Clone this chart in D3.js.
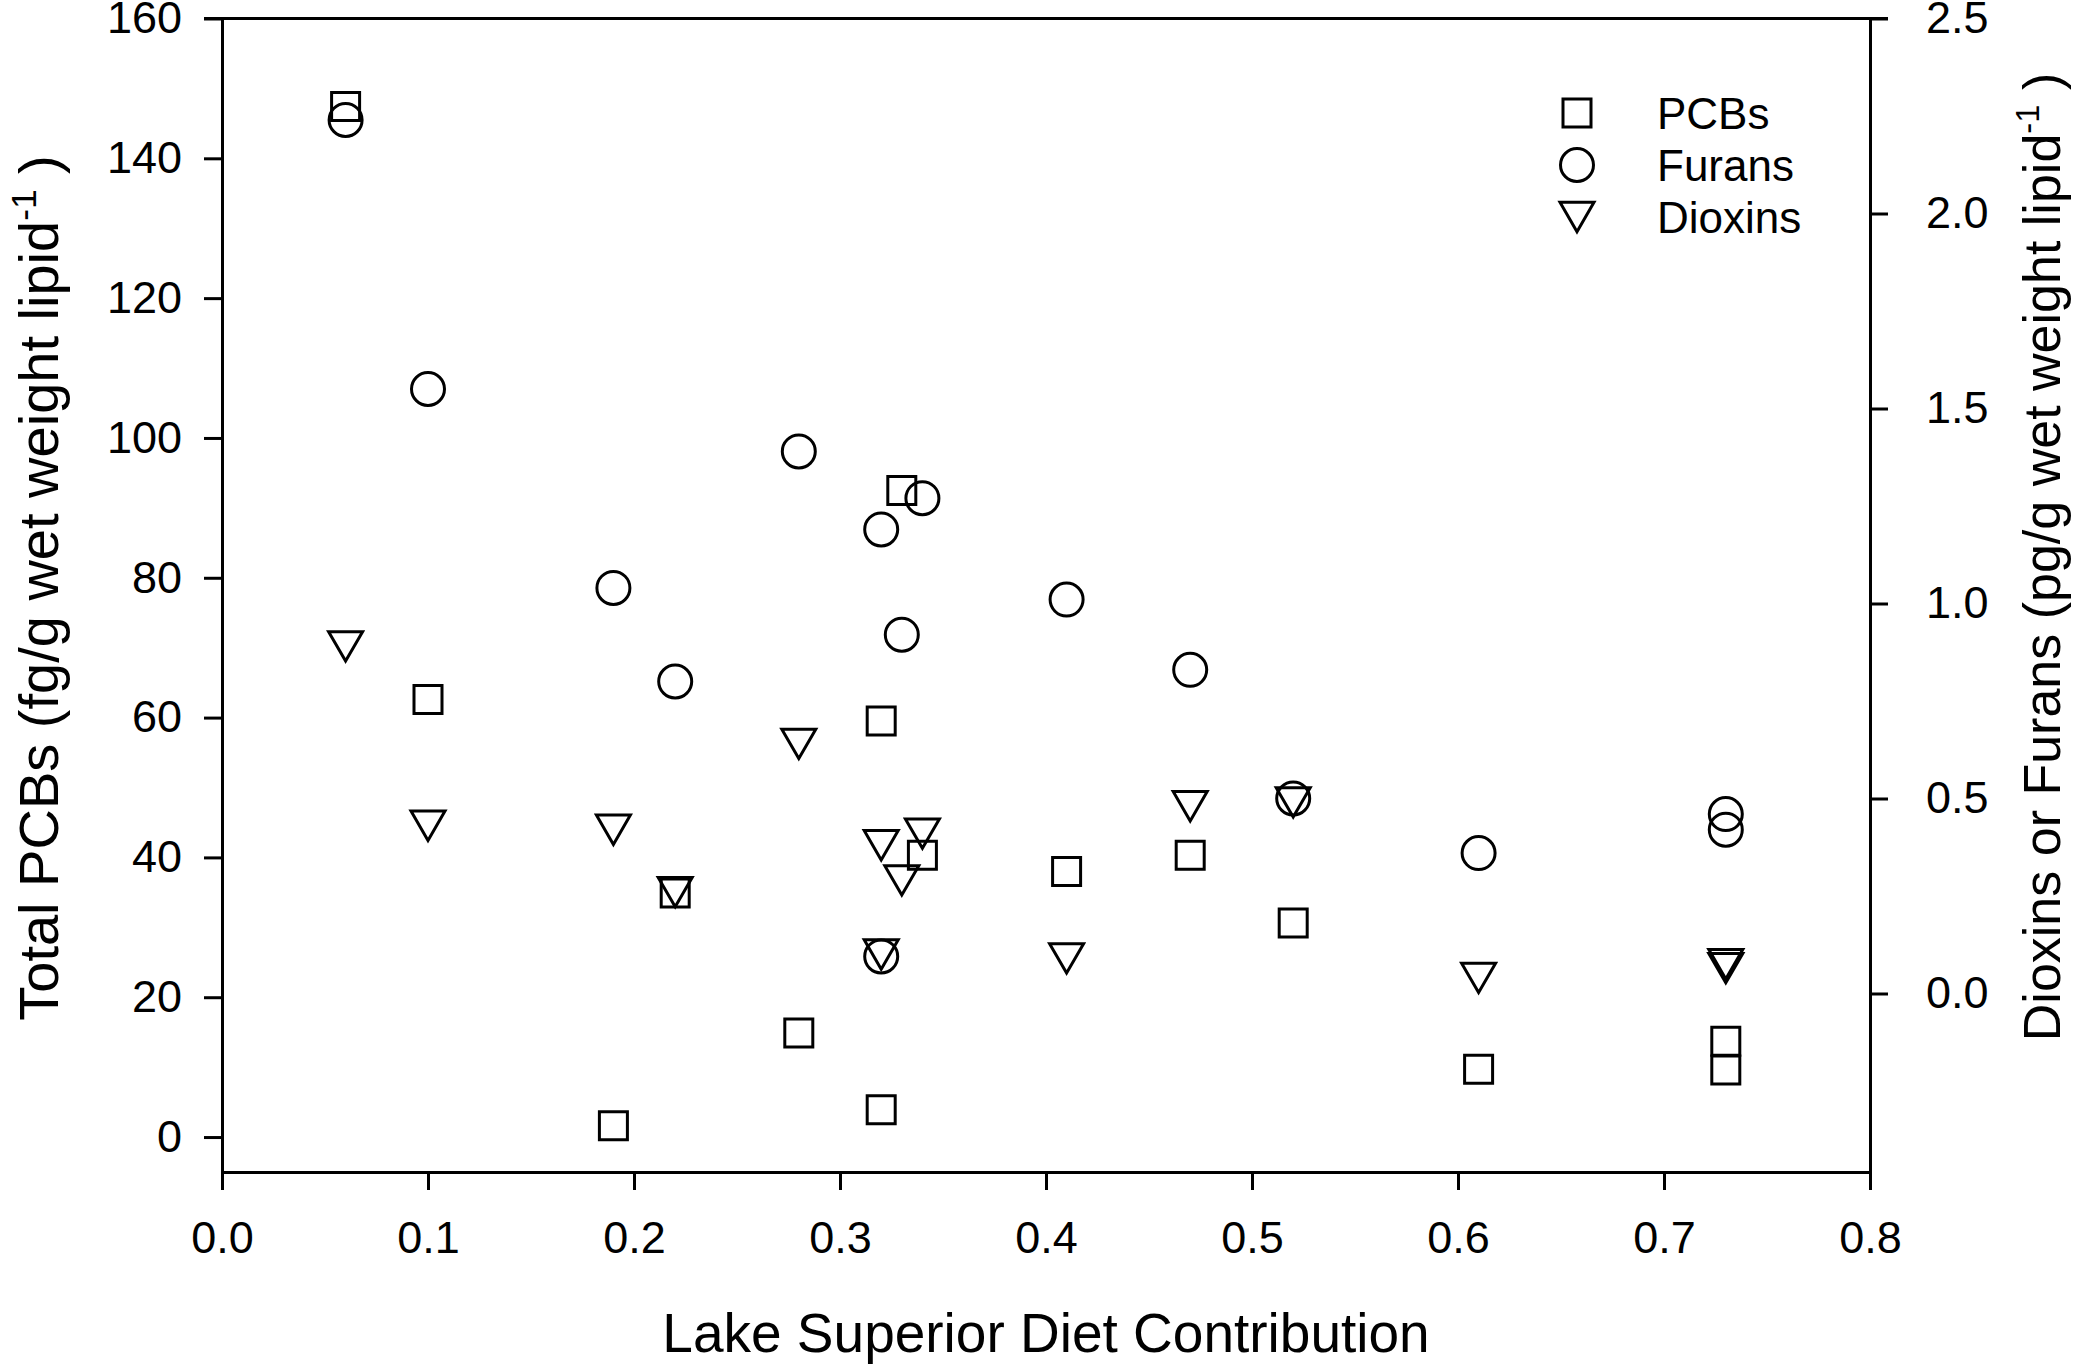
<!DOCTYPE html>
<html>
<head>
<meta charset="utf-8">
<script src="https://cdn.jsdelivr.net/npm/d3@7"></script>
<style>
  body { margin: 0; background: #fff; }
  text { font-family: 'Liberation Sans', Arial, sans-serif; fill: #000; }
</style>
</head>
<body>
<div id="chart"></div>
<script>
// diet contribution of each fish (x)
const dietShare = [0.06, 0.10, 0.19, 0.22, 0.28, 0.32, 0.32, 0.33, 0.34, 0.41, 0.47, 0.52, 0.61, 0.73, 0.73]
// left axis: total PCBs
const pcbs = [147.4, 62.6, 1.6, 34.9, 14.9, 59.5, 3.9, 92.5, 40.3, 38.0, 40.3, 30.6, 9.7, 13.7, 9.6]
// right axis: furans and dioxins
const furans = [2.24, 1.55, 1.04, 0.80, 1.39, 1.19, 0.095, 0.92, 1.27, 1.01, 0.83, 0.50, 0.36, 0.46, 0.42]
const dioxins = [0.89, 0.43, 0.42, 0.26, 0.64, 0.38, 0.10, 0.29, 0.41, 0.09, 0.48, 0.49, 0.04, 0.075, 0.065]

const xTicks = [0, 0.1, 0.2, 0.3, 0.4, 0.5, 0.6, 0.7, 0.8]
const leftTicks = [0, 20, 40, 60, 80, 100, 120, 140, 160]
const rightTicks = [0, 0.5, 1.0, 1.5, 2.0, 2.5]
const legendNames = ['PCBs', 'Furans', 'Dioxins']

const width = 2084
const height = 1365
const plot = { left: 222, right: 1870, top: 18.5, bottom: 1172 }
const lineW = 3

const svg = d3.select('#chart')
  .append('svg')
  .attr('width', width)
  .attr('height', height)

const x = d3.scaleLinear().domain([0, 0.8]).range([plot.left, plot.right])
const yLeft = d3.scaleLinear().domain([-5, 160]).range([plot.bottom, plot.top])
const yRight = d3.scaleLinear().domain([-0.4577, 2.5]).range([plot.bottom, plot.top])

// down-pointing triangle centred on its bounding box
const triangleDown = {
  draw(ctx, size) {
    const w = Math.sqrt(size)
    const h = w * Math.sqrt(3) / 2
    ctx.moveTo(-w / 2, -h / 2)
    ctx.lineTo(w / 2, -h / 2)
    ctx.lineTo(0, h / 2)
    ctx.closePath()
  }
}
const squareSym = d3.symbol().type(d3.symbolSquare).size(28 * 28)
const circleSym = d3.symbol().type(d3.symbolCircle).size(Math.PI * 16.5 * 16.5)
const triSym = d3.symbol().type(triangleDown).size(34 * 34)
const symbols = [squareSym, circleSym, triSym]

// axes
const styleAxis = g => {
  g.selectAll('path, line').attr('stroke', '#000').attr('stroke-width', lineW)
  g.selectAll('text').attr('font-size', 45).attr('fill', '#000')
  g.attr('font-family', null)
}

svg.append('g')
  .attr('transform', `translate(0, ${plot.bottom})`)
  .call(d3.axisBottom(x).tickValues(xTicks).tickFormat(d3.format('.1f'))
    .tickSize(18).tickSizeOuter(0).tickPadding(31))
  .call(styleAxis)

svg.append('g')
  .attr('transform', `translate(${plot.left}, 0)`)
  .call(d3.axisLeft(yLeft).tickValues(leftTicks).tickSize(18).tickSizeOuter(0).tickPadding(22))
  .call(styleAxis)

svg.append('g')
  .attr('transform', `translate(${plot.right}, 0)`)
  .call(d3.axisRight(yRight).tickValues(rightTicks).tickFormat(d3.format('.1f'))
    .tickSize(18).tickSizeOuter(0).tickPadding(38))
  .call(styleAxis)

// top border
svg.append('line')
  .attr('x1', plot.left - 18).attr('x2', plot.right + 18)
  .attr('y1', plot.top).attr('y2', plot.top)
  .attr('stroke', '#000').attr('stroke-width', lineW)

// points
const series = [
  { values: pcbs, y: yLeft, sym: squareSym },
  { values: dioxins, y: yRight, sym: triSym },
  { values: furans, y: yRight, sym: circleSym }
]
series.forEach(s => {
  svg.append('g')
    .selectAll('path')
    .data(s.values)
    .join('path')
    .attr('d', s.sym)
    .attr('transform', (d, i) => `translate(${x(dietShare[i])}, ${s.y(d)})`)
    .attr('fill', 'none')
    .attr('stroke', '#000')
    .attr('stroke-width', lineW)
})

// legend
const legend = svg.append('g').attr('transform', 'translate(1577, 113)')
legendNames.forEach((name, i) => {
  const row = legend.append('g').attr('transform', `translate(0, ${i * 52})`)
  row.append('path')
    .attr('d', symbols[i])
    .attr('fill', 'none')
    .attr('stroke', '#000')
    .attr('stroke-width', lineW)
  row.append('text')
    .attr('x', 80)
    .attr('dy', '0.36em')
    .attr('font-size', 44)
    .text(name)
})

// axis titles
svg.append('text')
  .attr('x', (plot.left + plot.right) / 2)
  .attr('y', 1352)
  .attr('text-anchor', 'middle')
  .attr('font-size', 55)
  .text('Lake Superior Diet Contribution')

const yTitle = (tx, ty, size, label) => {
  const t = svg.append('text')
    .attr('transform', `translate(${tx}, ${ty}) rotate(-90)`)
    .attr('text-anchor', 'middle')
    .attr('font-size', size)
  t.append('tspan').text(label)
  t.append('tspan').attr('font-size', size * 0.63).attr('dy', -size * 0.4).text('-1')
  t.append('tspan').attr('dy', size * 0.4).text(' )')
}
yTitle(58, 588, 56, 'Total PCBs (fg/g wet weight lipid')
yTitle(2060, 557, 52, 'Dioxins or Furans (pg/g wet weight lipid')
</script>
</body>
</html>
